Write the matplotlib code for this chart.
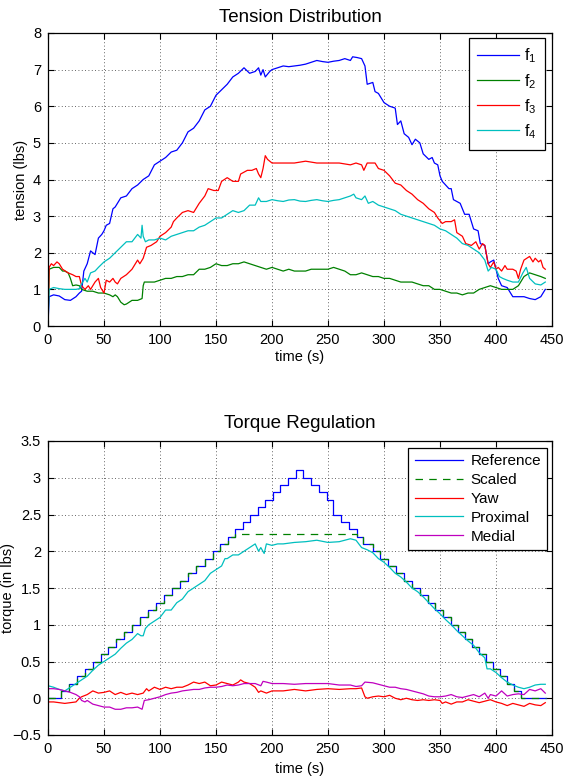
import matplotlib
matplotlib.use('Agg')
import matplotlib.pyplot as plt

plt.rcParams['font.family'] = ['Liberation Sans', 'DejaVu Sans']
plt.rcParams['mathtext.fontset'] = 'custom'
plt.rcParams['mathtext.rm'] = 'Liberation Sans'
plt.rcParams['mathtext.it'] = 'Liberation Sans'

# ---------------- data: Tension Distribution ----------------
f1_pts = [(0,0),(1,0.8),(5,0.85),(10,0.82),(15,0.72),(20,0.7),(25,0.8),(28,0.9),(30,0.95),(32,1.5),
          (35,1.7),(38,2.05),(42,1.95),(45,2.4),(48,2.5),(50,2.6),(52,2.75),(55,2.8),(58,3.2),(60,3.25),
          (65,3.5),(70,3.55),(75,3.75),(80,3.85),(85,4.0),(90,4.1),(95,4.4),(100,4.5),(105,4.6),(110,4.75),
          (115,4.8),(120,5.0),(125,5.3),(130,5.4),(135,5.6),(140,5.9),(145,6.0),(150,6.3),(155,6.45),
          (160,6.6),(165,6.8),(170,6.9),(175,7.05),(180,6.9),(185,6.95),(188,7.05),(190,6.85),(192,7.0),
          (194,6.8),(198,6.95),(200,7.0),(205,7.05),(210,7.1),(215,7.08),(220,7.1),(225,7.12),(230,7.15),
          (235,7.2),(240,7.25),(245,7.22),(250,7.2),(255,7.23),(260,7.25),(265,7.3),(270,7.25),(272,7.35),
          (276,7.33),(280,7.3),(283,7.1),(285,6.6),(290,6.65),(292,6.4),(295,6.35),
          (300,6.1),(305,6.0),(310,5.95),(312,5.5),(315,5.6),(318,5.25),(322,5.15),(325,4.95),(328,5.1),
          (332,5.0),(335,4.7),(340,4.55),(343,4.6),(345,4.45),(348,4.4),(350,4.1),(352,3.95),(355,3.85),
          (358,3.75),(360,3.75),(362,3.45),(365,3.4),(368,3.35),(372,3.05),(376,3.05),(380,2.65),(384,2.6),
          (386,2.25),(390,2.2),(393,1.7),(395,1.75),(398,1.8),(400,1.55),(402,1.3),(405,1.1),(410,1.05),
          (415,0.8),(420,0.8),(425,0.8),(430,0.75),(435,0.72),(440,0.8),(444,1.0)]

f2_pts = [(0,0),(1,1.55),(5,1.6),(10,1.6),(13,1.5),(15,1.5),(18,1.45),(20,1.3),(22,1.1),(25,1.12),
          (28,1.1),(30,1.0),(35,0.95),(40,0.95),(45,0.9),(50,0.9),(55,0.85),(58,0.8),(60,0.85),(62,0.8),
          (65,0.65),(68,0.58),(70,0.6),(75,0.7),(80,0.7),(84,0.75),(85,1.1),(86,1.2),(90,1.2),(95,1.2),
          (100,1.25),(105,1.3),(110,1.3),(115,1.35),(120,1.35),(125,1.4),(130,1.4),(135,1.55),(140,1.55),
          (145,1.6),(150,1.7),(155,1.65),(160,1.65),(165,1.7),(170,1.7),(175,1.75),(180,1.7),(185,1.65),
          (190,1.6),(195,1.55),(200,1.6),(205,1.55),(210,1.5),(215,1.55),(220,1.5),(225,1.5),(230,1.5),
          (235,1.55),(240,1.55),(245,1.55),(250,1.55),(255,1.6),(260,1.55),(265,1.5),(270,1.4),(275,1.4),
          (280,1.45),(285,1.4),(290,1.35),(295,1.35),(300,1.3),(305,1.3),(310,1.25),(315,1.2),(320,1.2),
          (325,1.2),(330,1.15),(335,1.1),(340,1.1),(345,1.0),(350,1.0),(355,0.95),(360,0.9),(365,0.9),
          (370,0.85),(375,0.9),(380,0.9),(385,1.0),(390,1.05),(395,1.1),(400,1.05),(405,1.0),(410,1.0),
          (415,1.0),(420,1.1),(425,1.35),(430,1.45),(435,1.4),(440,1.35),(444,1.3)]

f3_pts = [(0,0),(1,1.6),(3,1.7),(5,1.65),(8,1.75),(10,1.7),(13,1.55),(18,1.45),(22,1.4),(25,1.35),
          (28,1.35),(30,1.1),(33,1.0),(36,1.1),(38,1.0),(42,1.2),(45,1.3),(47,1.05),(50,0.9),(52,1.25),
          (55,1.2),(58,1.3),(60,1.2),(62,1.15),(65,1.3),(70,1.4),(75,1.55),(80,1.8),(82,1.7),(85,1.85),
          (88,2.15),(92,2.2),(97,2.3),(100,2.45),(105,2.55),(110,2.7),(112,2.85),(115,2.95),(120,3.1),
          (125,3.15),(130,3.1),(135,3.35),(140,3.55),(143,3.75),(148,3.7),(152,3.7),(155,3.95),(160,4.05),
          (165,3.95),(170,3.95),(172,4.15),(178,4.25),(182,4.25),(186,4.3),(188,4.15),(190,4.05),(192,4.3),
          (194,4.65),(196,4.55),(200,4.45),(210,4.45),(220,4.45),(230,4.5),(240,4.45),(250,4.45),(260,4.45),
          (270,4.4),(275,4.45),(280,4.4),(282,4.25),(285,4.45),(290,4.45),(292,4.45),(295,4.3),(300,4.25),
          (305,4.1),(310,3.9),(315,3.85),(320,3.7),(325,3.6),(330,3.45),(335,3.35),(340,3.2),(345,3.1),
          (348,2.95),(352,2.8),(355,2.85),(360,2.85),(363,2.9),(365,2.55),(370,2.45),(373,2.25),(378,2.2),
          (382,2.3),(385,2.1),(388,2.25),(390,2.2),(393,1.7),(395,1.6),(398,1.75),(400,1.55),(402,1.6),
          (405,1.5),(408,1.65),(410,1.55),(415,1.55),(418,1.5),(420,1.3),(422,1.55),(425,1.8),(430,1.9),
          (433,1.75),(435,1.85),(438,1.75),(440,1.8),(442,1.6),(444,1.55)]

f4_pts = [(0,0),(1,1.0),(5,1.05),(10,1.02),(15,1.0),(20,1.0),(25,1.0),(28,1.02),(30,1.15),(33,1.3),
          (35,1.2),(38,1.45),(42,1.5),(45,1.6),(50,1.75),(55,1.85),(60,2.0),(65,2.15),(70,2.3),(75,2.3),
          (80,2.5),(83,2.4),(84,2.75),(85,2.45),(87,2.3),(90,2.35),(95,2.35),(100,2.4),(105,2.35),(110,2.45),
          (115,2.5),(120,2.55),(125,2.6),(130,2.6),(135,2.7),(140,2.75),(145,2.85),(150,2.95),(155,2.95),
          (160,3.05),(165,3.15),(170,3.1),(175,3.15),(180,3.3),(185,3.3),(188,3.5),(190,3.4),(195,3.4),
          (200,3.45),(205,3.42),(210,3.4),(215,3.44),(220,3.45),(225,3.41),(230,3.4),(235,3.43),(240,3.45),
          (245,3.42),(250,3.4),(255,3.43),(260,3.45),(265,3.5),(270,3.55),
          (273,3.6),(275,3.5),(280,3.45),(283,3.55),(286,3.35),(290,3.4),(295,3.3),(300,3.25),(305,3.2),
          (310,3.15),(315,3.05),(320,3.0),(325,2.95),(330,2.9),(335,2.85),(340,2.8),(345,2.75),(350,2.65),
          (355,2.6),(360,2.5),(365,2.4),(370,2.25),(375,2.2),(380,2.1),(385,2.0),(390,1.8),(393,1.5),
          (396,1.6),(400,1.55),(403,1.35),(406,1.3),(410,1.25),(415,1.2),(420,1.2),(424,1.45),(427,1.6),
          (430,1.3),(435,1.15),(440,1.12),(444,1.2)]

# ---------------- data: Torque Regulation ----------------
ref_t = [0,12,19,26,33,40,47,54,61,68,75,82,89,96,104,111,118,125,132,140,147,153.7,160.5,167.2,173.9,
         180.6,187.4,194.1,200.8,207.5,214.3,221,227.3,234.6,241.8,249,254.3,261.2,268.4,276,281.5,289.8,
         296.8,303.8,310.8,317.8,324.8,331.9,338.9,345.9,352.9,360,366.2,372.4,378.6,384.8,391,397.2,
         403.4,409.6,415.8,422,445]
ref_v = [0,0.1,0.2,0.3,0.4,0.5,0.6,0.7,0.8,0.9,1.0,1.1,1.2,1.3,1.4,1.5,1.6,1.7,1.8,1.9,2.0,2.1,2.2,2.3,
         2.4,2.5,2.6,2.7,2.8,2.9,3.0,3.1,3.0,2.9,2.8,2.7,2.5,2.4,2.3,2.2,2.1,2.0,1.9,1.8,1.7,1.6,1.5,1.4,
         1.3,1.2,1.1,1.0,0.9,0.8,0.7,0.6,0.5,0.4,0.3,0.2,0.1,0.0,0.0]
scaled_v = [0,0.1,0.2,0.3,0.4,0.5,0.6,0.7,0.8,0.9,1.0,1.1,1.2,1.3,1.4,1.5,1.6,1.7,1.8,1.9,2.0,2.1,2.2,2.24,
            2.24,2.24,2.24,2.24,2.24,2.24,2.24,2.24,2.24,2.24,2.24,2.24,2.24,2.24,2.24,2.2,2.1,2.0,1.9,1.8,
            1.7,1.6,1.5,1.4,1.3,1.2,1.1,1.0,0.9,0.8,0.7,0.6,0.5,0.4,0.3,0.2,0.1,0.0,0.0]

yaw_pts = [(0,-0.05),(5,-0.05),(10,-0.06),(15,-0.07),(20,-0.06),(25,-0.05),(28,0.0),(30,0.02),(35,0.05),
           (40,0.1),(45,0.07),(50,0.08),(55,0.1),(60,0.05),(65,0.08),(70,0.05),(75,0.07),(80,0.05),(85,0.07),
           (88,0.13),(90,0.1),(95,0.15),(100,0.12),(105,0.15),(110,0.13),(115,0.15),(120,0.15),(125,0.18),
           (130,0.22),(135,0.2),(140,0.22),(145,0.17),(150,0.18),(155,0.22),(160,0.2),(165,0.18),(170,0.22),
           (172,0.25),(175,0.22),(180,0.2),(185,0.15),(188,0.08),(190,0.1),(195,0.07),(200,0.1),(205,0.1),
           (210,0.1),(220,0.12),(230,0.1),(240,0.12),(250,0.13),(260,0.12),(270,0.13),(275,0.13),(280,0.14),
           (283,0.02),(285,0.0),(290,0.02),(295,0.03),(300,0.02),(305,0.04),(310,0.0),(315,-0.02),(320,0.0),
           (325,-0.02),(330,-0.03),(335,-0.02),(340,-0.03),(345,-0.02),(350,-0.03),(352,-0.07),(355,-0.05),
           (360,-0.08),(365,-0.05),(370,-0.05),(375,-0.02),(380,-0.04),(385,-0.06),(390,-0.04),(395,-0.02),
           (400,-0.05),(405,-0.07),(410,-0.1),(415,-0.07),(420,-0.09),(425,-0.11),(430,-0.07),(435,-0.09),
           (440,-0.1),(444,-0.06)]

prox_pts = [(0,0.17),(5,0.15),(10,0.12),(15,0.1),(20,0.15),(25,0.2),(30,0.25),(35,0.3),(40,0.38),(45,0.45),
            (50,0.5),(55,0.55),(60,0.6),(65,0.68),(70,0.75),(75,0.8),(80,0.88),(83,0.85),(85,0.85),(87,0.95),
            (90,1.0),(95,1.05),(100,1.1),(105,1.2),(110,1.2),(115,1.3),(120,1.35),(125,1.45),(130,1.5),
            (135,1.55),(140,1.6),(145,1.7),(150,1.75),(155,1.8),(158,1.9),(160,1.9),(165,1.95),(170,1.95),
            (175,2.0),(180,2.05),(185,2.1),(188,2.0),(190,2.05),(193,1.97),(195,2.1),(200,2.08),(205,2.1),
            (210,2.1),(220,2.12),(230,2.13),(240,2.15),(250,2.12),(260,2.13),(265,2.15),(270,2.17),(275,2.15),
            (280,2.05),(285,2.02),(290,1.98),(295,1.9),(300,1.85),(305,1.78),(310,1.7),(315,1.65),(320,1.58),
            (325,1.5),(330,1.45),(335,1.38),(340,1.3),(345,1.22),(350,1.15),(355,1.07),(360,1.0),(365,0.92),
            (370,0.85),(375,0.78),(380,0.72),(385,0.62),(390,0.55),(392,0.4),(395,0.4),(400,0.35),(405,0.28),
            (410,0.22),(415,0.18),(420,0.15),(425,0.13),(430,0.15),(435,0.18),(440,0.19),(444,0.19)]

medial_pts = [(0,0.13),(5,0.13),(10,0.12),(15,0.1),(20,0.08),(25,0.05),(28,0.02),(30,-0.03),(33,-0.05),
              (35,-0.03),(40,-0.08),(45,-0.1),(50,-0.12),(55,-0.12),(60,-0.15),(65,-0.15),(70,-0.13),
              (75,-0.13),(80,-0.12),(84,-0.15),(86,-0.03),(90,-0.02),(95,0.0),(100,0.02),(105,0.05),(110,0.07),
              (115,0.08),(120,0.1),(125,0.11),(130,0.12),(135,0.12),(140,0.14),(145,0.15),(150,0.15),(155,0.16),
              (160,0.18),(165,0.17),(170,0.18),(175,0.2),(180,0.2),(185,0.2),(190,0.17),(192,0.23),(195,0.22),
              (200,0.2),(210,0.2),(220,0.19),(230,0.2),(240,0.2),(250,0.2),(260,0.18),(270,0.18),(275,0.16),
              (280,0.17),(283,0.22),(290,0.21),(295,0.19),(300,0.17),(305,0.15),(310,0.15),(315,0.13),
              (320,0.12),(325,0.1),(330,0.08),(335,0.06),(340,0.03),(345,0.02),(350,0.02),(355,0.03),
              (360,0.05),(365,0.02),(370,0.01),(375,0.03),(380,0.05),(385,0.02),(390,0.07),(393,0.0),
              (395,0.05),(400,0.03),(405,0.1),(410,0.03),(415,0.05),(420,0.06),(425,0.05),(430,0.12),
              (435,0.1),(440,0.13),(444,0.07)]

x_ticks = [0, 50, 100, 150, 200, 250, 300, 350, 400, 450]
top_yticks = [0, 1, 2, 3, 4, 5, 6, 7, 8]
bot_yticks = [-0.5, 0, 0.5, 1, 1.5, 2, 2.5, 3, 3.5]
bot_yticklabels = ['\u22120.5', '0', '0.5', '1', '1.5', '2', '2.5', '3', '3.5']

C_B, C_G, C_R, C_C, C_M = '#0000ff', '#008000', '#ff0000', '#00bfbf', '#bf00bf'
FS = 10.5
TFS = 13.5
LW = 0.9


def unzip(pts):
    return [p[0] for p in pts], [p[1] for p in pts]


def style(ax):
    ax.set_xlim(0, 450)
    ax.set_xticks(x_ticks)
    ax.tick_params(direction='in', length=4, width=0.8, top=True, right=True,
                   labelsize=FS, pad=5, colors='black')
    ax.grid(True, linestyle=(0, (1, 3)), color='#333333', linewidth=0.6)
    for s in ax.spines.values():
        s.set_linewidth(0.9)


fig = plt.figure(figsize=(5.8, 7.78), dpi=100)
ax1 = fig.add_axes([48/580, 1-326/778, 504/580, 293/778])
ax2 = fig.add_axes([48/580, 1-735/778, 504/580, 294/778])

# top
for pts, c, lab in [(f1_pts, C_B, r'$\mathregular{f_1}$'), (f2_pts, C_G, r'$\mathregular{f_2}$'),
                    (f3_pts, C_R, r'$\mathregular{f_3}$'), (f4_pts, C_C, r'$\mathregular{f_4}$')]:
    t, v = unzip(pts)
    ax1.plot(t, v, color=c, lw=LW, label=lab)
style(ax1)
ax1.set_xlabel('time (s)', fontsize=FS, labelpad=2)
ax1.set_ylim(0, 8)
ax1.set_yticks(top_yticks)
ax1.set_title('Tension Distribution', fontsize=TFS, pad=8)
ax1.set_ylabel('tension (lbs)', fontsize=FS)
ax1.yaxis.set_label_coords(-0.04, 0.5)
leg1 = ax1.legend(loc='upper right', bbox_to_anchor=(1 - 7/504, 1 - 5/293), borderaxespad=0,
                  fontsize=FS + 1, handlelength=2.6, labelspacing=0.4, handletextpad=0.3,
                  fancybox=False, framealpha=1, edgecolor='black', borderpad=0.55)
leg1.get_frame().set_linewidth(0.9)

# bottom
ax2.plot(ref_t, ref_v, color=C_B, lw=LW, drawstyle='steps-post', label='Reference')
ax2.plot(ref_t, scaled_v, color=C_G, lw=LW, ls=(0, (6, 5)), drawstyle='steps-post', label='Scaled')
t, v = unzip(yaw_pts)
ax2.plot(t, v, color=C_R, lw=LW, label='Yaw')
t, v = unzip(prox_pts)
ax2.plot(t, v, color=C_C, lw=LW, label='Proximal')
t, v = unzip(medial_pts)
ax2.plot(t, v, color=C_M, lw=LW, label='Medial')
style(ax2)
ax2.set_xlabel('time (s)', fontsize=FS, labelpad=4)
ax2.set_ylim(-0.5, 3.5)
ax2.set_yticks(bot_yticks)
ax2.set_yticklabels(bot_yticklabels)
ax2.set_title('Torque Regulation', fontsize=TFS, pad=9)
ax2.set_ylabel('torque (in lbs)', fontsize=FS)
ax2.yaxis.set_label_coords(-0.066, 0.5)
leg2 = ax2.legend(loc='upper right', bbox_to_anchor=(1 - 5/504, 1 - 7/294), borderaxespad=0,
                  fontsize=FS + 0.5, handlelength=3.2, labelspacing=0.32, handletextpad=0.45,
                  fancybox=False, framealpha=1, edgecolor='black', borderpad=0.4)
leg2.get_frame().set_linewidth(0.9)

fig.savefig('out.png', dpi=100)
